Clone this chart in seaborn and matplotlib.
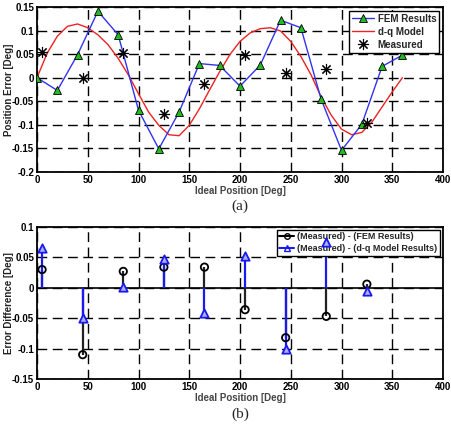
import numpy as np
import pandas as pd
import matplotlib
matplotlib.use("Agg")
import matplotlib.pyplot as plt
import seaborn as sns
from matplotlib.lines import Line2D

# ---- data ----
fem_x = [0, 20, 40, 60, 80, 100, 120, 140, 160, 180, 200, 220, 240, 260, 280, 300, 320, 340, 360]
fem_y = [0.0, -0.027, 0.049, 0.141, 0.091, -0.069, -0.151, -0.073, 0.030, 0.026, -0.018, 0.027,
         0.122, 0.106, -0.046, -0.154, -0.099, 0.024, 0.048]

dq_x = list(range(0, 361, 10))
dq_y = [0.0, 0.052, 0.088, 0.109, 0.114, 0.106, 0.091, 0.070, 0.041, 0.006, -0.034, -0.073,
        -0.101, -0.121, -0.123, -0.101, -0.066, -0.026, 0.013, 0.049, 0.077, 0.095, 0.104,
        0.106, 0.099, 0.077, 0.045, 0.006, -0.041, -0.080, -0.109, -0.121, -0.116, -0.094,
        -0.062, -0.030, 0.0]

meas_x = [5, 45, 85, 125, 165, 205, 245, 285, 325]
meas_y = [0.055, 0.0, 0.052, -0.077, -0.014, 0.048, 0.010, 0.018, -0.097]

diff_fem = [0.030, -0.110, 0.027, 0.034, 0.034, -0.036, -0.082, -0.047, 0.006]
diff_dq = [0.066, -0.050, 0.001, 0.047, -0.041, 0.053, -0.101, 0.075, -0.006]

sns.set_style("white")
plt.rcParams['font.family'] = ['Liberation Sans', 'DejaVu Sans']

fig = plt.figure(figsize=(4.51, 4.24), dpi=100)
W, H = 451, 424
ax1 = fig.add_axes([37 / W, 1 - 172 / H, (443 - 37) / W, (172 - 7) / H])
ax2 = fig.add_axes([37 / W, 1 - 379 / H, (443 - 37) / W, (379 - 227) / H])

grid_kw = dict(color='black', linestyle=(0, (7, 4)), linewidth=1.0)

def style(ax, yticks, ylim, ylabel):
    ax.set_xlim(0, 400)
    ax.set_ylim(*ylim)
    ax.set_xticks(range(0, 401, 50))
    ax.set_yticks(yticks)
    ax.set_yticklabels([('%g' % t) for t in yticks])
    ax.grid(True, **grid_kw)
    ax.set_axisbelow(True)
    for s in ax.spines.values():
        s.set_color('black')
        s.set_linewidth(1.3)
        s.set_visible(True)
    ax.tick_params(axis='both', labelsize=7, direction='in', length=3, pad=2, colors='black')
    for lab in ax.get_xticklabels() + ax.get_yticklabels():
        lab.set_fontweight('bold')
    ax.set_xlabel('Ideal Position [Deg]', fontsize=7, fontweight='bold', color='#444444', labelpad=1)
    ax.set_ylabel(ylabel, fontsize=7, fontweight='bold', color='#222222')
    ax.yaxis.set_label_coords(-23 / 406, 0.5)

# ---- top plot ----
df_fem = pd.DataFrame({'x': fem_x, 'y': fem_y})
df_dq = pd.DataFrame({'x': dq_x, 'y': dq_y})
df_meas = pd.DataFrame({'x': meas_x, 'y': meas_y})

sns.lineplot(data=df_dq, x='x', y='y', ax=ax1, color='#ee2222', linewidth=1.0,
             label='d-q Model', sort=False, zorder=3)
sns.lineplot(data=df_fem, x='x', y='y', ax=ax1, color='#3333ee', linewidth=1.0,
             marker='^', markersize=6, markerfacecolor='#22bb22', markeredgecolor='black',
             markeredgewidth=0.6, label='FEM Results', sort=False, zorder=4)
ax1.plot(df_meas['x'], df_meas['y'], linestyle='none', marker=(8, 2, 0), markersize=8,
         color='black', markeredgewidth=0.8, label='Measured', zorder=5)
style(ax1, [-0.2, -0.15, -0.1, -0.05, 0, 0.05, 0.1, 0.15], (-0.2, 0.15), 'Position Error [Deg]')
handles, labels = ax1.get_legend_handles_labels()
order = [labels.index('FEM Results'), labels.index('d-q Model'), labels.index('Measured')]
leg1 = ax1.legend([handles[i] for i in order], [labels[i] for i in order],
                  loc='upper right', fontsize=7, frameon=True, fancybox=False,
                  edgecolor='black', framealpha=1, borderpad=0.3, labelspacing=0.3,
                  handlelength=2.2, handletextpad=0.4, borderaxespad=0.4)
leg1.get_frame().set_linewidth(1.0)
for t in leg1.get_texts():
    t.set_fontweight('bold')

# ---- bottom plot ----
ax2.axhline(0, color='black', linewidth=1.2, zorder=2)
ax2.vlines(meas_x, 0, diff_fem, color='#222222', linewidth=1.6, zorder=3)
ax2.vlines(meas_x, 0, diff_dq, color='#1a1aee', linewidth=1.6, zorder=4)
sns.scatterplot(x=meas_x, y=diff_fem, ax=ax2, marker='o', s=28, facecolor='none',
                edgecolor='black', linewidth=1.3, zorder=5)
sns.scatterplot(x=meas_x, y=diff_dq, ax=ax2, marker='^', s=36, facecolor='#aab0ff',
                edgecolor='#1a1aee', linewidth=1.3, zorder=6)
style(ax2, [-0.15, -0.1, -0.05, 0, 0.05, 0.1], (-0.15, 0.1), 'Error Difference [Deg]')
h1 = Line2D([], [], color='black', linewidth=1.5, marker='o', markerfacecolor='none',
            markeredgecolor='black', markersize=4, markevery=[1])
h2 = Line2D([], [], color='#1a1aee', linewidth=1.5, marker='^', markerfacecolor='none',
            markeredgecolor='#1a1aee', markersize=5, markevery=[1])
leg2 = ax2.legend([h1, h2], ['(Measured) - (FEM Results)', '(Measured) - (d-q Model Results)'],
                  loc='upper right', fontsize=6.5, frameon=True, fancybox=False,
                  edgecolor='black', framealpha=1, borderpad=0.3, labelspacing=0.3,
                  handlelength=1.6, handletextpad=0.4, borderaxespad=0.3)
leg2.get_frame().set_linewidth(1.0)
for t in leg2.get_texts():
    t.set_fontweight('bold')

fig.text(240 / W, 1 - 206 / H, '(a)', ha='center', va='center', fontsize=11,
         family=['Liberation Serif', 'DejaVu Serif'])
fig.text(240 / W, 1 - 414 / H, '(b)', ha='center', va='center', fontsize=11,
         family=['Liberation Serif', 'DejaVu Serif'])

fig.savefig('out.png', dpi=100)
